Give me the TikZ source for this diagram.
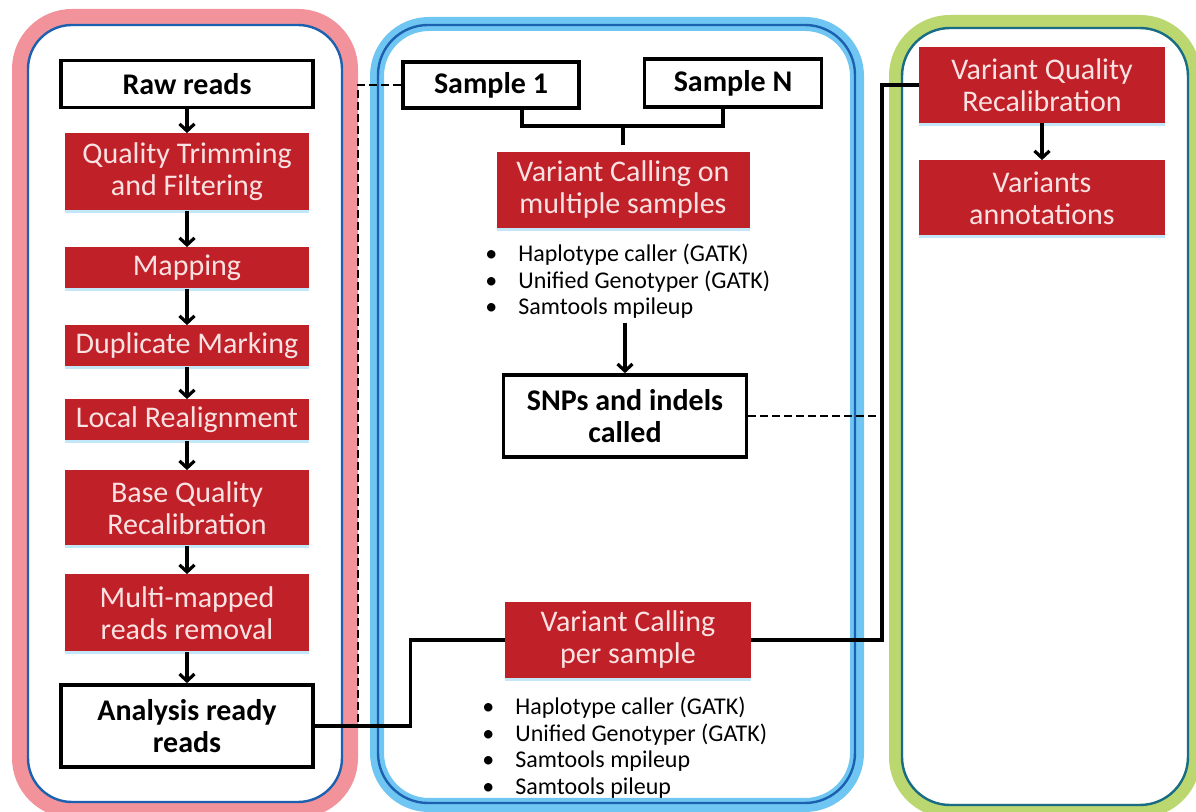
\documentclass[tikz,border=0pt]{standalone}
\usepackage{fontspec}
\setmainfont{Carlito}
\usetikzlibrary{arrows.meta}
\usetikzlibrary{shadows}

\definecolor{boxred}{RGB}{192,32,40}
\definecolor{boxtext}{RGB}{250,226,226}
\definecolor{pinkglow}{RGB}{242,146,154}
\definecolor{blueglow}{RGB}{112,198,242}
\definecolor{greenglow}{RGB}{186,215,112}
\definecolor{edgeblue}{RGB}{28,96,176}
\definecolor{edgeteal}{RGB}{24,108,134}

\begin{document}
\begin{tikzpicture}[x=0.5pt,y=-0.5pt,
  redbox/.style={fill=boxred,text=boxtext,minimum width=122pt,align=center,inner sep=0pt,
    font=\fontsize{15}{16}\selectfont,
    drop shadow={fill=blueglow!60,opacity=0.7,shadow xshift=0pt,shadow yshift=-1.5pt}},
  whitebox/.style={draw,fill=white,line width=1.8pt,align=center,inner sep=0pt,
    font=\bfseries\fontsize{15}{16}\selectfont},
  flow/.style={line width=1.6pt,-{Straight Barb[length=3.5pt,width=7.5pt,line width=1.6pt]}},
  link/.style={line width=1.6pt},
  bullets/.style={anchor=north west,inner sep=0pt,align=left,font=\fontsize{12}{13.2}\selectfont}]

\useasboundingbox (0,0) rectangle (1196,812);
\fill[white] (0,0) rectangle (1196,812);

% three panels
\draw[pinkglow,line width=8pt,rounded corners=26pt] (20,17) rectangle (350,810);
\draw[edgeblue,line width=1.2pt,rounded corners=22pt] (28,25) rectangle (342,802);
\draw[blueglow,line width=7pt,rounded corners=26pt] (377,24) rectangle (857,805);
\draw[edgeblue,line width=1.2pt,rounded corners=25pt] (378,25) rectangle (855,803);
\draw[greenglow,line width=7pt,rounded corners=27pt] (896,22) rectangle (1194,811);
\draw[edgeteal,line width=1.2pt,rounded corners=24pt] (902,28) rectangle (1188,805);

% preprocessing
\node[whitebox,minimum width=126pt,minimum height=23.5pt] (raw) at (187,84) {Raw reads};
\node[redbox,minimum height=38.5pt] (trim) at (187,172) {Quality Trimming\\and Filtering};
\node[redbox,minimum height=20.5pt] (map) at (187,268) {Mapping};
\node[redbox,minimum height=20.5pt] (dup) at (187,346) {Duplicate Marking};
\node[redbox,minimum height=20.5pt] (realign) at (187,420) {Local Realignment};
\node[redbox,minimum height=37.5pt] (bqsr) at (187,508) {Base Quality\\Recalibration};
\node[redbox,minimum height=38.5pt] (multi) at (187,613) {Multi-mapped\\reads removal};
\node[whitebox,minimum width=126pt,minimum height=41pt] (ready) at (187,726) {Analysis ready\\reads};

\draw[flow] (raw.south) -- (trim.north);
\draw[flow] (trim.south) -- (map.north);
\draw[flow] (map.south) -- (dup.north);
\draw[flow] (dup.south) -- (realign.north);
\draw[flow] (realign.south) -- (bqsr.north);
\draw[flow] (bqsr.south) -- (multi.north);
\draw[flow] (multi.south) -- (ready.north);

% calling
\node[whitebox,minimum width=88pt,minimum height=23pt] (s1) at (491,85) {Sample 1};
\node[whitebox,minimum width=88.5pt,minimum height=24pt] (sN) at (733,83) {Sample N};
\node[redbox,minimum width=126.5pt,minimum height=38pt] (joint) at (623,190) {Variant Calling on\\multiple samples};
\node[bullets] (jointtools) at (485,244) {\makebox[16.5pt][l]{\textbullet}Haplotype caller (GATK)\\
  \makebox[16.5pt][l]{\textbullet}Unified Genotyper (GATK)\\
  \makebox[16.5pt][l]{\textbullet}Samtools mpileup};
\node[whitebox,minimum width=121.5pt,minimum height=41pt] (snp) at (625,416) {SNPs and indels\\called};
\node[redbox,minimum width=123pt,minimum height=38pt] (single) at (628,640) {Variant Calling\\per sample};
\node[bullets] (singletools) at (482,697) {\makebox[16.5pt][l]{\textbullet}Haplotype caller (GATK)\\
  \makebox[16.5pt][l]{\textbullet}Unified Genotyper (GATK)\\
  \makebox[16.5pt][l]{\textbullet}Samtools mpileup\\
  \makebox[16.5pt][l]{\textbullet}Samtools pileup};

\coordinate (join) at (623,126);
\draw[link] ([xshift=15.5pt]s1.south) |- (join) -| ([xshift=-5pt]sN.south);
\draw[link] (join) -- ([yshift=3.5pt]joint.north);
\draw[flow] ([yshift=25pt]snp.north) -- (snp.north);

% filtering
\node[redbox,minimum width=123pt,minimum height=38pt] (vqsr) at (1042,85) {Variant Quality\\Recalibration};
\node[redbox,minimum width=123pt,minimum height=37.5pt] (annot) at (1042,198) {Variants\\annotations};
\draw[flow] (vqsr.south) -- (annot.north);

% links between panels
\coordinate (tap) at (358,727);
\coordinate (riser) at (882,85);
\draw[link] (ready.east) -- ++(96,0) |- (single.west);
\draw[line width=1.4pt,dash pattern=on 4pt off 2pt] (s1.west) -| (tap);
\draw[link] (single.east) -| (riser) -- (vqsr.west);
\draw[line width=1.4pt,dash pattern=on 4pt off 2pt] (snp.east) -- (snp.east -| riser);

\end{tikzpicture}
\end{document}
